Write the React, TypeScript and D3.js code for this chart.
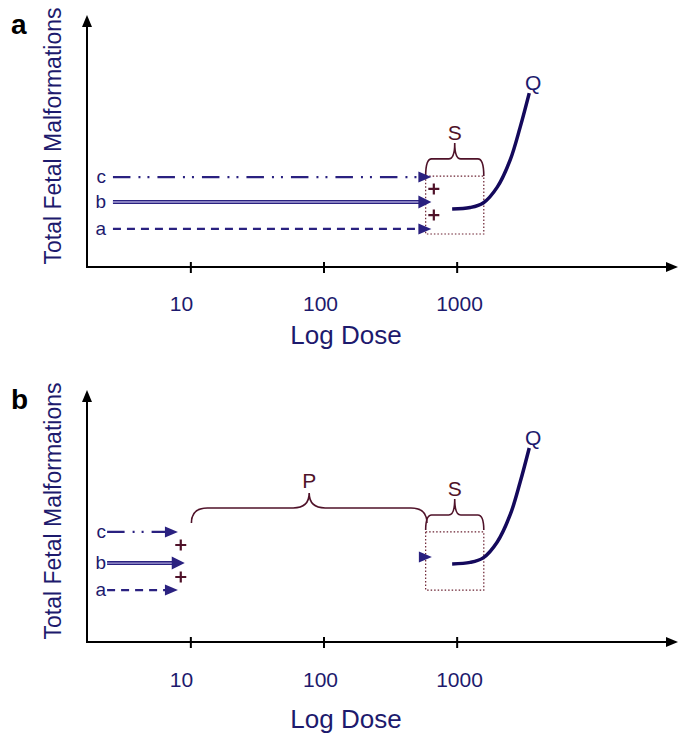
import React from 'react';
import * as d3 from 'd3';

// dose axis ticks
const doseTicks = [10, 100, 1000];
const seriesNames = ['a', 'b', 'c'];

// Q dose-response curve (dose, total malformations)
const curveDose = [917, 1253, 1568, 2000, 2502, 2977, 3478];
const curveRespA = [23.0, 23.6, 25.4, 31.7, 42.5, 55.6, 69.0];
const curveRespB = [31.0, 31.6, 33.4, 39.7, 50.5, 63.6, 77.0];

// horizontal arrows a, b, c
const arrowStartA = [2.6, 2.6, 2.6];
const arrowTipA = [640, 640, 640];
const arrowLevelA = [15.1, 25.8, 35.7];
const arrowStartB = [2.35, 2.35, 2.35];
const arrowTipB = [8.0, 9.0, 8.0];
const arrowLevelB = [20.6, 31.3, 43.7];

// "+" marks
const plusDoseA = [668, 668];
const plusRespA = [20.6, 31.0];
const plusDoseB = [8.4, 8.4];
const plusRespB = [25.8, 38.5];

// S region (dotted box) and braces
const sDose = [580, 1585];
const sRespA = [13.1, 36.1];
const sRespB = [20.6, 43.7];
const sBraceA = [36.1, 42.9, 49.2];
const sBraceB = [44.4, 50.4, 56.7];
const pDose = [10.1, 593];
const pBraceB = [47.2, 53.2, 59.1];
const loneArrowB = [646, 33.7];

const NAVY = '#1d1a6d';
const LINE = '#2a2180';
const CURVE = '#14095c';
const MAROON = '#4f1229';
const FONT = 'Liberation Sans, Arial, sans-serif';

const W = 678;
const PLOT_H = 252;

const dash = { a: '8,6', c: '17.5,8,2,7,2,8' };

function brace(x0, x1, yb, yf, yp, r) {
  const xm = (x0 + x1) / 2;
  return `M${x0},${yb} Q${x0},${yf} ${x0 + r},${yf} L${xm - r},${yf} Q${xm},${yf} ${xm},${yp} ` +
    `Q${xm},${yf} ${xm + r},${yf} L${x1 - r},${yf} Q${x1},${yf} ${x1},${yb}`;
}

function tri(xTip, y, len, hw) {
  return `M${xTip},${y} L${xTip - len},${y - hw} L${xTip - len},${y + hw} Z`;
}

const Panel = ({ axisY, label, tickDy, titleDy, curveResp, starts, tips, levels, plusDose, plusResp, sResp, sBrace, pBrace, lone }) => {
  const x = d3.scaleLog().domain([1.66, 44000]).range([87, 676]);
  const y = d3.scaleLinear().domain([0, 100]).range([axisY, axisY - PLOT_H]);
  const top = axisY - PLOT_H;

  const line = d3.line<number>()
    .x((d, i) => x(curveDose[i]))
    .y(d => y(d))
    .curve(d3.curveCatmullRom);

  const bx0 = x(sDose[0]);
  const bx1 = x(sDose[1]);

  return (
    <g>
      <text x={11} y={top + 19} fontFamily={FONT} fontWeight="bold" fontSize={28} fill="#000">{label}</text>
      <text x={61} y={top + 121} fontFamily={FONT} fontSize={23} fill={NAVY} textAnchor="middle"
        transform={`rotate(-90,61,${top + 121})`}>Total Fetal Malformations</text>

      {/* axes */}
      <path d={`M87,${top + 8} V${axisY} H671`} fill="none" stroke="#000" strokeWidth={2} />
      <path d={`M87,${top} L82,${top + 12} L92,${top + 12} Z`} fill="#000" />
      <path d={`M678,${axisY} L666,${axisY - 5} L666,${axisY + 5} Z`} fill="#000" />
      {doseTicks.map(t => (
        <g key={t}>
          <line x1={x(t)} x2={x(t)} y1={axisY - 5} y2={axisY + 6} stroke="#000" strokeWidth={2} />
          <text x={x(t) - 21} y={axisY + tickDy} fontFamily={FONT} fontSize={21} fill={NAVY}>{t}</text>
        </g>
      ))}
      <text x={346} y={axisY + titleDy} fontFamily={FONT} fontSize={26} fill={NAVY} textAnchor="middle">Log Dose</text>

      {/* S dotted box */}
      <rect x={bx0} y={y(sResp[1])} width={bx1 - bx0} height={y(sResp[0]) - y(sResp[1])}
        fill="none" stroke="#6a2030" strokeWidth={1.2} strokeDasharray="1.5,2" />
      <path d={brace(bx0, bx1, y(sBrace[0]), y(sBrace[1]), y(sBrace[2]), 6)} fill="none" stroke={MAROON} strokeWidth={1.6} />
      <text x={(bx0 + bx1) / 2} y={y(sBrace[2]) - 3} fontFamily={FONT} fontSize={21} fill={MAROON} textAnchor="middle">S</text>
      {pBrace && (
        <g>
          <path d={brace(x(pDose[0]), x(pDose[1]), y(pBrace[0]), y(pBrace[1]), y(pBrace[2]), 16)} fill="none" stroke={MAROON} strokeWidth={1.6} />
          <text x={(x(pDose[0]) + x(pDose[1])) / 2} y={y(pBrace[2]) - 5} fontFamily={FONT} fontSize={21} fill={MAROON} textAnchor="middle">P</text>
        </g>
      )}

      {/* series arrows */}
      {seriesNames.map((n, i) => {
        const yy = y(levels[i]);
        const x0 = x(starts[i]);
        const xt = x(tips[i]);
        const hw = n === 'b' ? 6.5 : 5.5;
        return (
          <g key={n}>
            <text x={106} y={yy + 6} fontFamily={FONT} fontSize={19} fill={NAVY} textAnchor="end">{n}</text>
            {n === 'b' ? (
              <g>
                <line x1={x0} x2={xt - 11} y1={yy} y2={yy} stroke={LINE} strokeWidth={4} />
                <line x1={x0} x2={xt - 11} y1={yy} y2={yy} stroke="#a9a2d8" strokeWidth={1.4} />
              </g>
            ) : (
              <line x1={x0} x2={xt - 11} y1={yy} y2={yy} stroke={LINE} strokeWidth={2.2} strokeDasharray={dash[n]} />
            )}
            <path d={tri(xt, yy, 13, hw)} fill={LINE} />
          </g>
        );
      })}
      {lone && <path d={tri(x(lone[0]), y(lone[1]), 13, 5.5)} fill={LINE} />}

      {/* plus marks */}
      {plusDose.map((d, i) => (
        <path key={i} d={`M${x(d) - 5.5},${y(plusResp[i])} h11 M${x(d)},${y(plusResp[i]) - 5.5} v11`}
          stroke={MAROON} strokeWidth={2.2} />
      ))}

      {/* Q curve */}
      <path d={line(curveResp) || ''} fill="none" stroke={CURVE} strokeWidth={3.5} strokeLinecap="butt" />
      <text x={x(curveDose[curveDose.length - 1]) + 4} y={y(curveResp[curveResp.length - 1]) - 3}
        fontFamily={FONT} fontSize={21} fill={NAVY} textAnchor="middle">Q</text>
    </g>
  );
};

export default function App() {
  return (
    <svg width={W} height={734} style={{ position: 'absolute', left: 0, top: 0, background: '#fff' }}>
      <Panel axisY={267} label="a" tickDy={44} titleDy={77} curveResp={curveRespA} starts={arrowStartA} tips={arrowTipA}
        levels={arrowLevelA} plusDose={plusDoseA} plusResp={plusRespA} sResp={sRespA} sBrace={sBraceA} />
      <Panel axisY={642} label="b" tickDy={45} titleDy={86} curveResp={curveRespB} starts={arrowStartB} tips={arrowTipB}
        levels={arrowLevelB} plusDose={plusDoseB} plusResp={plusRespB} sResp={sRespB} sBrace={sBraceB}
        pBrace={pBraceB} lone={loneArrowB} />
    </svg>
  );
}
